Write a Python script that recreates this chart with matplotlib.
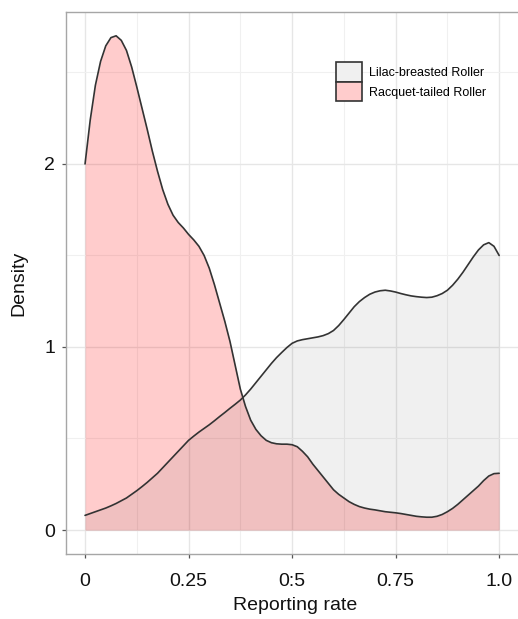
import matplotlib
matplotlib.use("Agg")
import matplotlib.pyplot as plt
from matplotlib.patches import Patch
from matplotlib.ticker import MultipleLocator

plt.rcParams["font.family"] = ["Liberation Sans", "DejaVu Sans"]

# Reporting-rate grid on which both density curves are given
rate = [0.0000, 0.0125, 0.0250, 0.0375, 0.0500, 0.0625, 0.0750, 0.0875,
        0.1000, 0.1125, 0.1250, 0.1375, 0.1500, 0.1625, 0.1750, 0.1875,
        0.2000, 0.2125, 0.2250, 0.2375, 0.2500, 0.2625, 0.2750, 0.2875,
        0.3000, 0.3125, 0.3250, 0.3375, 0.3500, 0.3625, 0.3750, 0.3875,
        0.4000, 0.4125, 0.4250, 0.4375, 0.4500, 0.4625, 0.4750, 0.4875,
        0.5000, 0.5125, 0.5250, 0.5375, 0.5500, 0.5625, 0.5750, 0.5875,
        0.6000, 0.6125, 0.6250, 0.6375, 0.6500, 0.6625, 0.6750, 0.6875,
        0.7000, 0.7125, 0.7250, 0.7375, 0.7500, 0.7625, 0.7750, 0.7875,
        0.8000, 0.8125, 0.8250, 0.8375, 0.8500, 0.8625, 0.8750, 0.8875,
        0.9000, 0.9125, 0.9250, 0.9375, 0.9500, 0.9625, 0.9750, 0.9875,
        1.0000]

# Density estimates per species
lilac_breasted = [0.080, 0.090, 0.100, 0.110, 0.120, 0.132, 0.145, 0.160,
                  0.175, 0.195, 0.215, 0.237, 0.260, 0.285, 0.310, 0.340,
                  0.370, 0.400, 0.430, 0.460, 0.490, 0.513, 0.535, 0.555,
                  0.575, 0.597, 0.620, 0.642, 0.665, 0.687, 0.710, 0.738,
                  0.770, 0.805, 0.840, 0.875, 0.910, 0.942, 0.970, 0.997,
                  1.020, 1.033, 1.040, 1.045, 1.050, 1.055, 1.062, 1.073,
                  1.090, 1.117, 1.150, 1.185, 1.220, 1.248, 1.270, 1.288,
                  1.300, 1.307, 1.310, 1.306, 1.300, 1.292, 1.285, 1.279,
                  1.275, 1.272, 1.270, 1.272, 1.280, 1.292, 1.310, 1.337,
                  1.370, 1.408, 1.450, 1.492, 1.530, 1.558, 1.570, 1.550,
                  1.500]
racquet_tailed = [2.000, 2.240, 2.430, 2.560, 2.645, 2.690, 2.700, 2.675,
                  2.620, 2.530, 2.420, 2.305, 2.190, 2.070, 1.960, 1.860,
                  1.780, 1.720, 1.680, 1.650, 1.615, 1.585, 1.550, 1.500,
                  1.430, 1.340, 1.240, 1.140, 1.030, 0.900, 0.770, 0.675,
                  0.600, 0.550, 0.515, 0.490, 0.477, 0.471, 0.469, 0.469,
                  0.466, 0.455, 0.430, 0.400, 0.360, 0.325, 0.290, 0.255,
                  0.220, 0.195, 0.175, 0.155, 0.140, 0.128, 0.120, 0.114,
                  0.110, 0.105, 0.100, 0.097, 0.094, 0.090, 0.085, 0.080,
                  0.075, 0.072, 0.070, 0.070, 0.075, 0.085, 0.100, 0.118,
                  0.140, 0.165, 0.190, 0.215, 0.240, 0.270, 0.295, 0.308,
                  0.310]

species = ["Lilac-breasted Roller", "Racquet-tailed Roller"]
x_ticks = [0, 0.25, 0.5, 0.75, 1.0]
x_tick_labels = ["0", "0.25", "0:5", "0.75", "1.0"]
y_ticks = [0, 1, 2]
y_tick_labels = ["0", "1", "2"]

W, H = 518, 619
fig = plt.figure(figsize=(W / 100, H / 100), dpi=100)
ax = fig.add_axes([66 / W, 1 - 554 / H, 458 / W, 542 / H])

line_col = "#333333"
ax.fill_between(rate, racquet_tailed, 0, color="#ff0000", alpha=0.2, lw=0, zorder=2)
ax.fill_between(rate, lilac_breasted, 0, color="black", alpha=0.06, lw=0, zorder=3)
ax.plot(rate, racquet_tailed, color=line_col, lw=1.2, zorder=4,
        solid_joinstyle="round", solid_capstyle="round")
ax.plot(rate, lilac_breasted, color=line_col, lw=1.2, zorder=4,
        solid_joinstyle="round", solid_capstyle="round")

ax.set_xlim(-0.046, 1.060)
ax.set_ylim(-0.131, 2.83)

ax.set_xticks(x_ticks)
ax.set_xticklabels(x_tick_labels)
ax.set_yticks(y_ticks)
ax.set_yticklabels(y_tick_labels)
ax.xaxis.set_minor_locator(MultipleLocator(0.125))
ax.yaxis.set_minor_locator(MultipleLocator(0.5))

ax.set_axisbelow(True)
ax.grid(which="major", color="#e6e6e6", lw=1.0)
ax.grid(which="minor", color="#f0f0f0", lw=0.8)

for side in ["left", "bottom", "top"]:
    ax.spines[side].set_color("#a6a6a6")
    ax.spines[side].set_linewidth(1.0)
ax.spines["right"].set_visible(False)

ax.tick_params(which="major", length=3, width=0.9, color="#555555",
               labelsize=14, labelcolor="#111111")
ax.tick_params(axis="x", which="major", pad=11)
ax.tick_params(axis="y", which="major", pad=5)
ax.tick_params(which="minor", length=0)

ax.set_xlabel("Reporting rate", fontsize=14, color="#111111", labelpad=5)
ax.set_ylabel("Density", fontsize=14, color="#111111", labelpad=12)

handles = [
    Patch(facecolor="#f0f0f0", edgecolor=line_col, linewidth=1.2, label=species[0]),
    Patch(facecolor="#ffcccc", edgecolor=line_col, linewidth=1.2, label=species[1]),
]
fig.legend(handles=handles, loc="upper left",
           bbox_to_anchor=(336 / W, 1 - 62 / H), bbox_transform=fig.transFigure,
           frameon=False, fontsize=9, handlelength=2.05, handleheight=2.05,
           handletextpad=0.6, labelspacing=0.0, borderpad=0.0, borderaxespad=0.0)

fig.savefig("out.png", dpi=100)
